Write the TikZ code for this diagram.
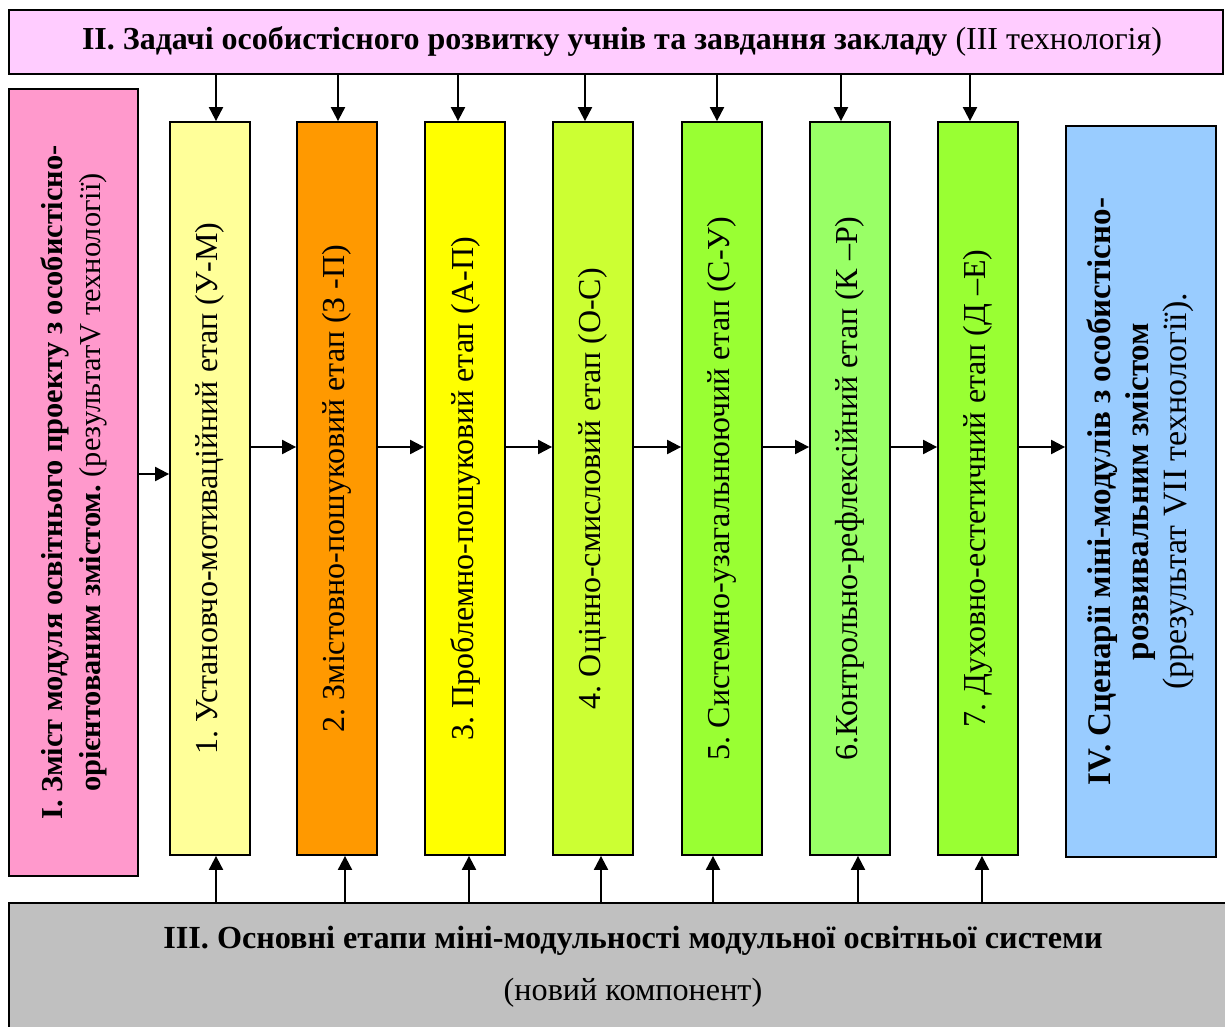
\documentclass[tikz,border=0pt]{standalone}
\usepackage{fontspec}
\setmainfont{Liberation Serif}
\usepackage{graphicx}
\usetikzlibrary{arrows.meta,calc}
\definecolor{topc}{HTML}{FFCCFF}
\definecolor{pinkc}{HTML}{FF99CC}
\definecolor{cA}{HTML}{FFFF99}
\definecolor{cB}{HTML}{FF9900}
\definecolor{cC}{HTML}{FFFF00}
\definecolor{cD}{HTML}{CCFF33}
\definecolor{cE}{HTML}{99FF33}
\definecolor{cF}{HTML}{99FF66}
\definecolor{cG}{HTML}{99FF33}
\definecolor{bluec}{HTML}{99CCFF}
\definecolor{grayc}{HTML}{C0C0C0}
\frenchspacing
\begin{document}
\frenchspacing
\begin{tikzpicture}[x=0.5pt,y=-0.5pt,
  box/.style={draw=black,line width=0.9pt,inner sep=0pt,anchor=center},
  stagebox/.style={box,minimum width=40pt,minimum height=366.5pt,font=\fontsize{16}{18}\selectfont},
  arr/.style={line width=1pt,-{Triangle[length=7pt,width=7pt]}}]
\useasboundingbox (0,0) rectangle (1225,1027);
\fill[white] (0,0) rectangle (1225,1027);

\node[box,fill=topc,minimum width=607pt,minimum height=32pt,font=\fontsize{16}{18}\selectfont] (top) at (616,42)
  {\hspace*{6pt}\textbf{II. Задачі особистісного розвитку учнів та завдання закладу} (III технологія)};

\node[box,fill=pinkc,minimum width=64.5pt,minimum height=393.5pt,font=\fontsize{15.2}{19}\selectfont] (left) at (73.5,482.5)
  {\rotatebox{90}{\begin{tabular}{@{}c@{}}\textbf{I. Зміст модуля освітнього проекту з особистісно-}\\
   \textbf{орієнтованим змістом.} (результатV технології)\end{tabular}}};

\node[stagebox,fill=cA] (s1) at (210,488.5) {\rotatebox{90}{1. Установчо-мотиваційний етап (У-М)}};
\node[stagebox,fill=cB] (s2) at (337,488.5) {\rotatebox{90}{2. Змістовно-пошуковий етап (З -П)}};
\node[stagebox,fill=cC] (s3) at (465,488.5) {\rotatebox{90}{3. Проблемно-пошуковий етап (А-П)}};
\node[stagebox,fill=cD] (s4) at (593,488.5) {\rotatebox{90}{4. Оцінно-смисловий етап (О-С)}};
\node[stagebox,fill=cE] (s5) at (722,488.5) {\rotatebox{90}{5. Системно-узагальнюючий етап (С-У)}};
\node[stagebox,fill=cF] (s6) at (850,488.5) {\rotatebox{90}{6.Контрольно-рефлексійний етап (К –Р)}};
\node[stagebox,fill=cG] (s7) at (978,488.5) {\rotatebox{90}{7. Духовно-естетичний етап (Д –Е)}};

\node[box,fill=bluec,minimum width=75pt,minimum height=365.5pt,font=\fontsize{16.5}{19}\selectfont] (right) at (1141,491.5)
  {\rotatebox{90}{\begin{tabular}{@{}c@{}}\textbf{IV. Сценарії міні-модулів з особистісно-}\\
   \textbf{розвивальним змістом}\\ {\fontsize{17}{19}\selectfont (ррезультат VII технології).}\end{tabular}}};

\node[box,fill=grayc,minimum width=624pt,minimum height=64pt,font=\fontsize{16.1}{18.6}\selectfont,align=center] (bot) at (633,967)
  {\textbf{III. Основні етапи міні-модульності модульної освітньої системи}\\[7.5pt]
   (новий компонент)};

\foreach \s/\dx in {s1/6,s2/1,s3/-7,s4/-8,s5/-5,s6/-9,s7/-8}
  \draw[arr] ({$(\s.north)+(\dx,0)$} |- top.south) -- ($(\s.north)+(\dx,0)$);
\foreach \s/\dx in {s1/6,s2/8,s3/4,s4/8,s5/-9,s6/8,s7/4}
  \draw[arr] ({$(\s.south)+(\dx,0)$} |- bot.north) -- ($(\s.south)+(\dx,0)$);

\draw[arr] ($(left.east)+(0,-8.5)$) -- ($(s1.west)+(0,-14.5)$);
\foreach \a/\b in {s1/s2,s2/s3,s3/s4,s4/s5,s5/s6,s6/s7}
  \draw[arr] ($(\a.east)+(0,-41.5)$) -- ($(\b.west)+(0,-41.5)$);
\draw[arr] ($(s7.east)+(0,-41.5)$) -- ($(right.west)+(0,-44.5)$);
\end{tikzpicture}
\end{document}
